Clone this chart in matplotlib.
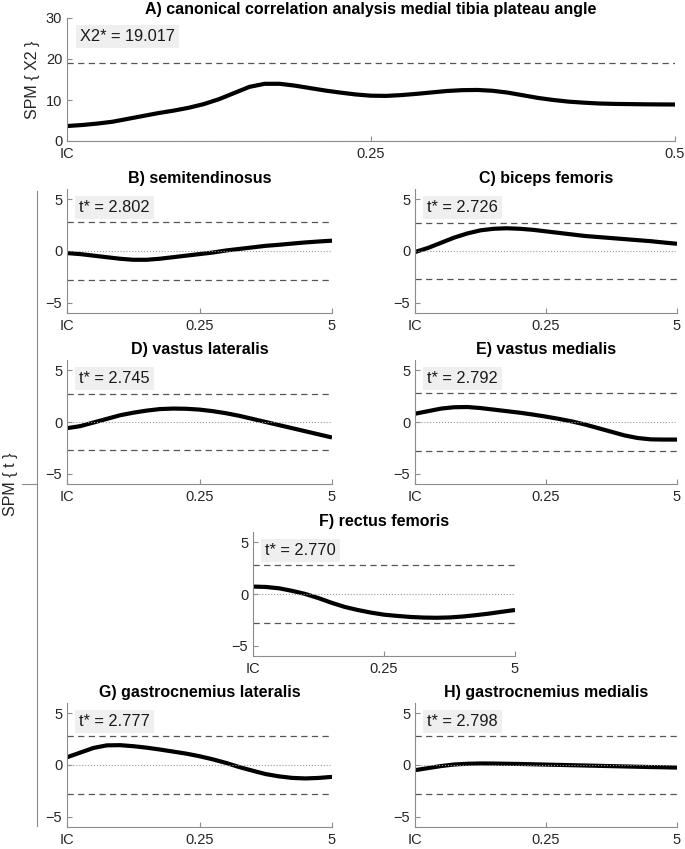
import matplotlib
matplotlib.use("Agg")
import matplotlib.pyplot as plt
from matplotlib.lines import Line2D

plt.rcParams['font.family'] = ['Liberation Sans', 'DejaVu Sans']

# normalised time axis (IC -> end)
frac = [0.00, 0.05, 0.10, 0.15, 0.20, 0.25, 0.30, 0.35, 0.40, 0.45, 0.50,
        0.55, 0.60, 0.65, 0.70, 0.75, 0.80, 0.85, 0.90, 0.95, 1.00]
frac_a = [0.000, 0.025, 0.050, 0.075, 0.100, 0.125, 0.150, 0.175, 0.200, 0.225,
          0.250, 0.275, 0.300, 0.325, 0.350, 0.375, 0.400, 0.425, 0.450, 0.475,
          0.500, 0.525, 0.550, 0.575, 0.600, 0.625, 0.650, 0.675, 0.700, 0.725,
          0.750, 0.775, 0.800, 0.825, 0.850, 0.875, 0.900, 0.925, 0.950, 0.975, 1.000]

# A) canonical correlation analysis, SPM{X2}
cca_x2 = [3.65, 3.9, 4.25, 4.7, 5.4, 6.1, 6.8, 7.4, 8.1, 9.0,
          10.2, 11.7, 13.2, 13.95, 13.95, 13.5, 12.9, 12.3, 11.8, 11.35,
          11.05, 11.0, 11.2, 11.5, 11.85, 12.2, 12.4, 12.45, 12.25, 11.8,
          11.15, 10.5, 10.0, 9.6, 9.35, 9.15, 9.05, 9.0, 8.95, 8.92, 8.9]
cca_crit = 19.017

semiten = [-0.2, -0.3, -0.45, -0.6, -0.75, -0.85, -0.85, -0.75, -0.6, -0.45, -0.3,
           -0.15, 0.05, 0.2, 0.35, 0.5, 0.6, 0.72, 0.83, 0.92, 1.0]
biceps = [-0.1, 0.3, 0.8, 1.3, 1.7, 2.0, 2.15, 2.2, 2.15, 2.05, 1.9,
          1.75, 1.6, 1.45, 1.35, 1.25, 1.15, 1.05, 0.95, 0.82, 0.7]
vas_lat = [-0.6, -0.4, -0.05, 0.3, 0.65, 0.9, 1.1, 1.25, 1.3, 1.28, 1.2,
           1.05, 0.85, 0.6, 0.3, 0.0, -0.3, -0.6, -0.9, -1.2, -1.5]
vas_med = [0.8, 1.05, 1.3, 1.43, 1.45, 1.35, 1.2, 1.05, 0.9, 0.72, 0.52,
           0.3, 0.05, -0.25, -0.6, -0.95, -1.3, -1.55, -1.68, -1.7, -1.7]
rect_fem = [0.72, 0.68, 0.55, 0.3, 0.0, -0.4, -0.85, -1.25, -1.55, -1.8, -2.0,
            -2.12, -2.22, -2.28, -2.3, -2.27, -2.18, -2.05, -1.9, -1.72, -1.55]
gas_lat = [0.75, 1.2, 1.65, 1.9, 1.92, 1.82, 1.68, 1.5, 1.3, 1.1, 0.85,
           0.55, 0.2, -0.2, -0.55, -0.88, -1.1, -1.25, -1.3, -1.25, -1.15]
gas_med = [-0.5, -0.3, -0.1, 0.05, 0.12, 0.15, 0.14, 0.12, 0.1, 0.07, 0.04,
           0.01, -0.02, -0.05, -0.08, -0.11, -0.14, -0.17, -0.2, -0.22, -0.25]

titles = ['B) semitendinosus', 'C) biceps femoris', 'D) vastus lateralis',
          'E) vastus medialis', 'F) rectus femoris', 'G) gastrocnemius lateralis',
          'H) gastrocnemius medialis']
series = [semiten, biceps, vas_lat, vas_med, rect_fem, gas_lat, gas_med]
t_crit = [2.802, 2.726, 2.745, 2.792, 2.770, 2.777, 2.798]

W, H = 685, 849
fig = plt.figure(figsize=(W / 100, H / 100), dpi=100)

def px_axes(left, right, top, bottom):
    return fig.add_axes([left / W, 1 - bottom / H, (right - left) / W, (bottom - top) / H])

def style(ax, top_label):
    for s in ['top', 'right']:
        ax.spines[s].set_visible(False)
    for s in ['left', 'bottom']:
        ax.spines[s].set_color('#8c8c8c')
        ax.spines[s].set_linewidth(0.8)
    ax.tick_params(direction='in', length=3.5, width=0.8, color='#8c8c8c',
                   labelcolor='#262626', labelsize=10.5)
    ax.tick_params(axis='x', pad=4.5)
    ax.tick_params(axis='y', pad=3.5)
    ax.set_xlim(0, 1)
    ax.set_xticks([0, 0.5, 1])
    ax.set_xticklabels(['IC', '0.25', top_label])

BOX = dict(boxstyle='square,pad=0.25', fc='#efefef', ec='none')
DASH = (0, (5, 3.5))

# panel A
axA = px_axes(67, 675, 18, 141)
style(axA, '0.5')
axA.plot(frac_a, cca_x2, color='black', lw=3.0, solid_capstyle='butt')
axA.axhline(cca_crit, color='#555555', lw=0.9, ls=DASH)
axA.axhline(0, color='#999999', lw=0.8, ls=':')
axA.set_ylim(0, 30)
axA.set_yticks([0, 10, 20, 30])
axA.set_ylabel('SPM { X2 }', fontsize=11.5, color='#262626', labelpad=4)
axA.set_title('A) canonical correlation analysis medial tibia plateau angle',
              fontsize=11.5, fontweight='bold', pad=3)
axA.text(0.022, 25.4, 'X2* = 19.017', fontsize=11.8, color='#1a1a1a',
         va='center', ha='left', bbox=BOX)

# t panels: (left, right, top, bottom) in pixels
boxes = [(67, 332, 189, 313), (415, 677, 189, 313),
         (67, 332, 360, 484), (415, 677, 360, 484),
         (253, 515, 532, 656),
         (67, 332, 703, 827), (415, 677, 703, 827)]

for (l, r, t, b), ttl, y, tc in zip(boxes, titles, series, t_crit):
    ax = px_axes(l, r, t, b)
    style(ax, '5')
    ax.plot(frac, y, color='black', lw=3.0, solid_capstyle='butt')
    ax.axhline(tc, color='#555555', lw=0.9, ls=DASH)
    ax.axhline(-tc, color='#555555', lw=0.9, ls=DASH)
    ax.axhline(0, color='#999999', lw=0.8, ls=':')
    ax.set_ylim(-6, 6)
    ax.set_yticks([-5, 0, 5])
    ax.set_title(ttl, fontsize=11.5, fontweight='bold', pad=4)
    ax.text(0.045, 4.2, 't* = %.3f' % tc, fontsize=11.8, color='#1a1a1a',
            va='center', ha='left', bbox=BOX)

# shared bracket axis for the SPM{t} panels
fig.add_artist(Line2D([37 / W, 37 / W], [1 - 191 / H, 1 - 826 / H],
                      color='#8c8c8c', lw=0.8))
fig.add_artist(Line2D([22 / W, 37 / W], [1 - 484 / H, 1 - 484 / H],
                      color='#8c8c8c', lw=0.8))
fig.text(10 / W, 1 - 484 / H, 'SPM { t }', rotation=90, fontsize=11.5,
         color='#262626', ha='center', va='center')

plt.savefig('out.png', dpi=100)
